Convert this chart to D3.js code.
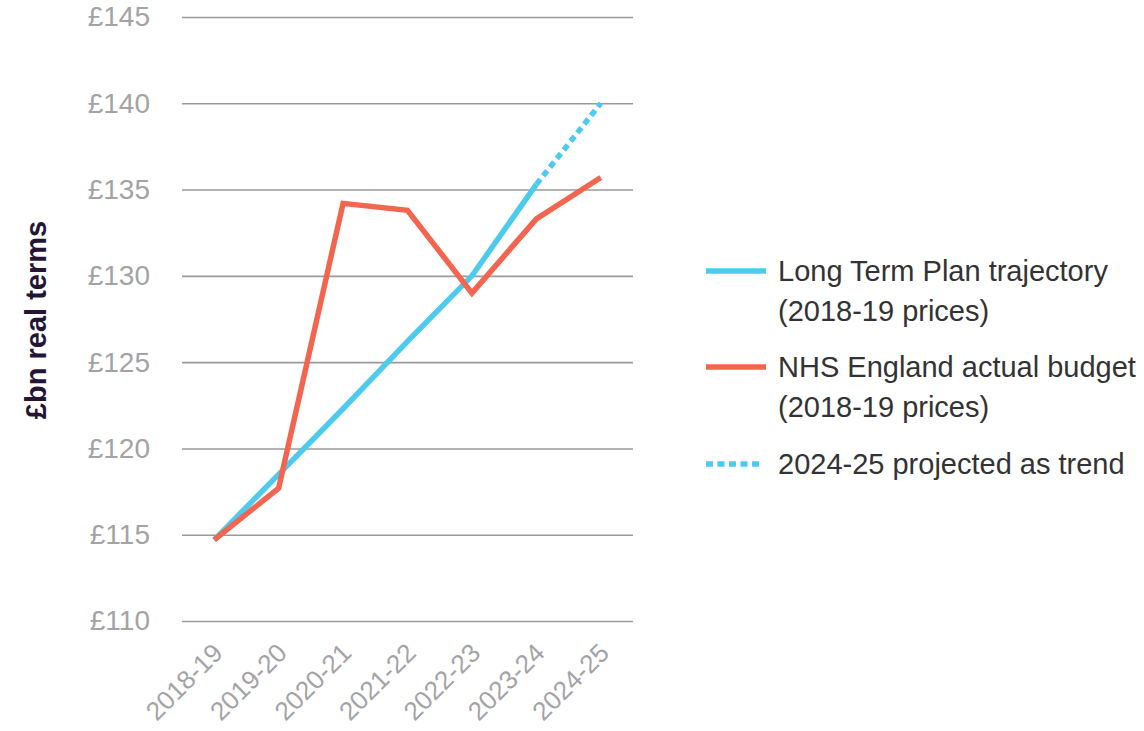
<!DOCTYPE html>
<html>
<head>
<meta charset="utf-8">
<script src="https://cdn.jsdelivr.net/npm/d3@7"></script>
<style>
  body { margin: 0; background: #fff; }
  svg text { font-family: "Liberation Sans", Arial, sans-serif; }
</style>
</head>
<body>
<div id="chart"></div>
<script>
  "use strict";

  // financial years on the x axis
  var years = ["2018-19", "2019-20", "2020-21", "2021-22", "2022-23", "2023-24", "2024-25"];

  // Long Term Plan trajectory, solid up to 2023-24, then projected
  var planValues = [114.7, 118.5, 122.3, 126.2, 130.0, 135.3];
  var projectedYears = ["2023-24", "2024-25"];
  var projectedValues = [135.3, 140.0];

  // NHS England actual budget
  var actualValues = [114.7, 117.7, 134.2, 133.8, 129.0, 133.3, 135.7];

  var yTicks = [110, 115, 120, 125, 130, 135, 140, 145];

  var legendItems = [
    { lines: ["Long Term Plan trajectory", "(2018-19 prices)"], color: "#4ccbee", dash: null, len: 60 },
    { lines: ["NHS England actual budget", "(2018-19 prices)"], color: "#f4654f", dash: null, len: 60 },
    { lines: ["2024-25 projected as trend"], color: "#4ccbee", dash: "7,4.5", len: 55 }
  ];

  var width = 1144, height = 731;
  var margin = { left: 182, right: 511, top: 17, bottom: 110 };

  var svg = d3.select("#chart").append("svg")
      .attr("width", width)
      .attr("height", height);

  var x = d3.scalePoint()
      .domain(years)
      .range([margin.left, width - margin.right])
      .padding(0.5);

  var y = d3.scaleLinear()
      .domain([110, 145])
      .range([height - margin.bottom, margin.top]);

  // gridlines + y labels
  var yAxis = d3.axisLeft(y)
      .tickValues(yTicks)
      .tickSize(-(width - margin.right - margin.left))
      .tickPadding(32)
      .tickFormat(function (d) { return "£" + d; });

  var gy = svg.append("g")
      .attr("transform", "translate(" + margin.left + ",0)")
      .call(yAxis);
  gy.select(".domain").remove();
  gy.selectAll(".tick line").attr("stroke", "#9a9a9e").attr("stroke-width", 1.6);
  gy.selectAll(".tick text")
      .attr("fill", "#a3a3a6")
      .style("font-size", "28px");

  // x labels, rotated
  var xAxis = d3.axisBottom(x).tickSize(0).tickPadding(0);
  var gx = svg.append("g")
      .attr("transform", "translate(0," + (height - margin.bottom) + ")")
      .call(xAxis);
  gx.select(".domain").remove();
  gx.selectAll(".tick text")
      .attr("fill", "#a3a3a6")
      .style("font-size", "26px")
      .attr("text-anchor", "end")
      .attr("dy", "0.35em")
      .attr("transform", "translate(3,27) rotate(-45)");

  // y title
  svg.append("text")
      .attr("transform", "translate(46,320) rotate(-90)")
      .attr("text-anchor", "middle")
      .attr("fill", "#241535")
      .style("font-size", "29px")
      .style("font-weight", "bold")
      .text("£bn real terms");

  var line = d3.line()
      .x(function (d) { return x(d[0]); })
      .y(function (d) { return y(d[1]); });

  svg.append("path")
      .datum(d3.zip(years.slice(0, planValues.length), planValues))
      .attr("fill", "none")
      .attr("stroke", legendItems[0].color)
      .attr("stroke-width", 5.5)
      .attr("d", line);

  svg.append("path")
      .datum(d3.zip(projectedYears, projectedValues))
      .attr("fill", "none")
      .attr("stroke", legendItems[2].color)
      .attr("stroke-width", 5.5)
      .attr("stroke-dasharray", "6.5,4.5")
      .attr("d", line);

  svg.append("path")
      .datum(d3.zip(years, actualValues))
      .attr("fill", "none")
      .attr("stroke", legendItems[1].color)
      .attr("stroke-width", 5.5)
      .attr("d", line);

  // legend
  var lineHeight = 40;
  var itemTop = [271, 367, 464];
  var legend = svg.append("g");
  legendItems.forEach(function (item, i) {
    var g = legend.append("g").attr("transform", "translate(0," + itemTop[i] + ")");
    g.append("line")
        .attr("x1", 706).attr("x2", 706 + item.len)
        .attr("y1", 0).attr("y2", 0)
        .attr("stroke", item.color)
        .attr("stroke-width", 5.5)
        .attr("stroke-dasharray", item.dash);
    item.lines.forEach(function (t, j) {
      g.append("text")
          .attr("x", 778)
          .attr("y", j * lineHeight)
          .attr("dy", "0.35em")
          .attr("fill", "#333333")
          .style("font-size", "29px")
          .text(t);
    });
  });
</script>
</body>
</html>
